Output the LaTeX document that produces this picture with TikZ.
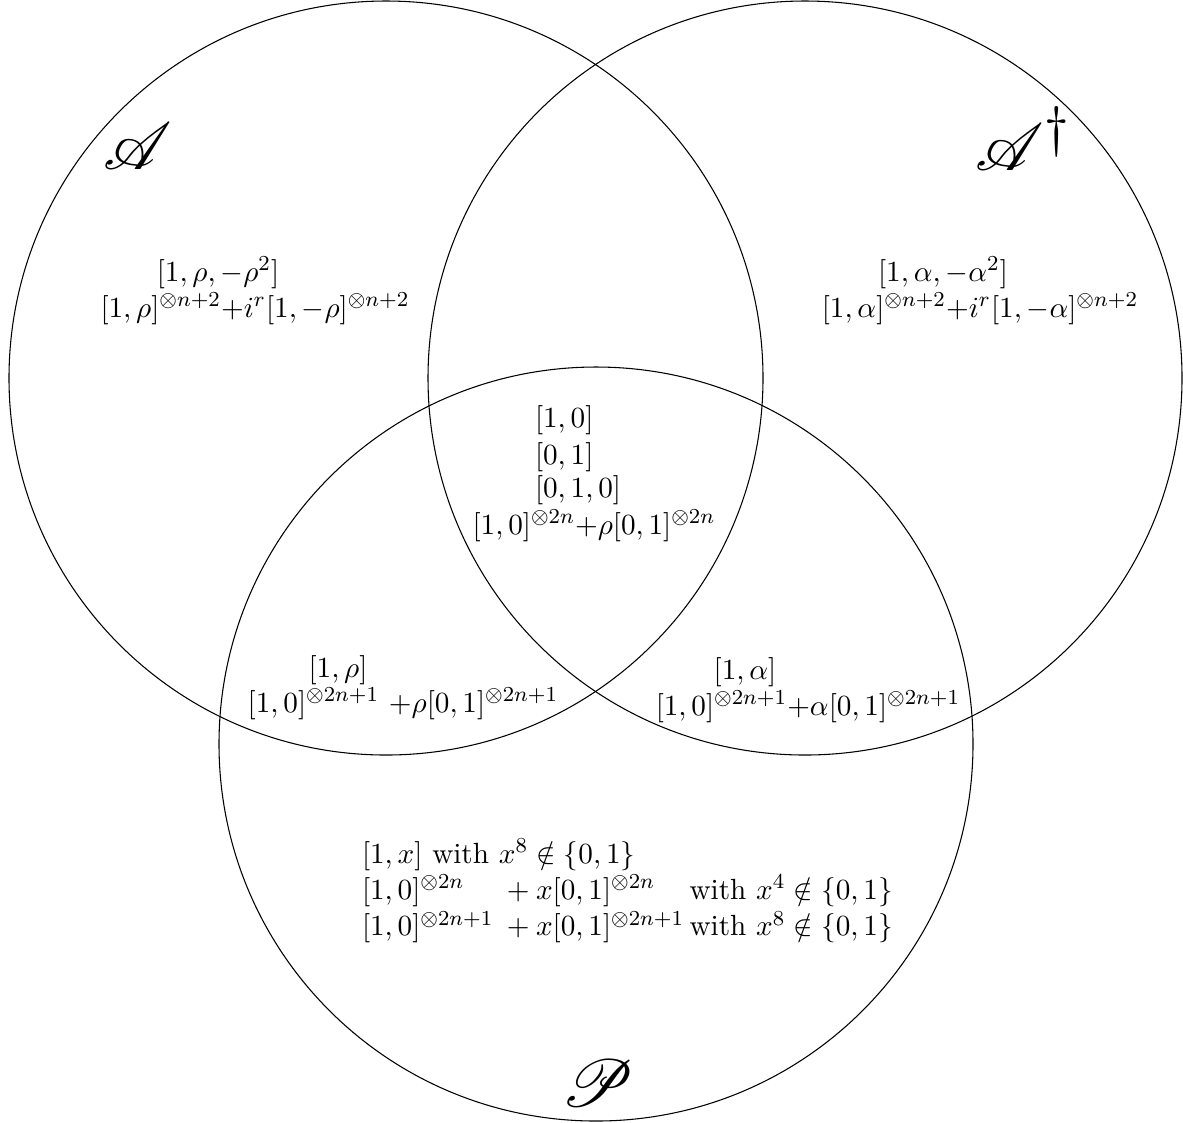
\documentclass[tikz,border=0pt]{standalone}
\usepackage{amsmath,amssymb}
\usepackage{mathrsfs}
\begin{document}
\begin{tikzpicture}[x=0.3748pt,y=-0.3748pt,
  every node/.style={font=\fontsize{10.95}{13.6}\selectfont},
  circ/.style={draw=black,line width=0.4pt},
  lbl/.style={inner sep=0pt,outer sep=0pt},
  setname/.style={inner sep=0pt,font=\Huge}]
\useasboundingbox (0,0) rectangle (1183,1122);
% circles
\draw[circ] (386,378) circle [radius=377];
\draw[circ] (805,378) circle [radius=377];
\draw[circ] (596,744) circle [radius=377];
% set names
\node[setname] (nA) at (138,146) {$\mathscr{A}$};
\node[setname,anchor=base west] (nAd) at (975,170) {$\mathscr{A}^{\dagger}$};
\node[setname] (nP) at (598,1083) {$\mathscr{P}$};
% A only
\node[lbl,anchor=base] (a1) at (218,281) {$[1,\rho,-\rho^2]$};
\node[lbl,anchor=base] (a2) at (255,317) {$[1,\rho]^{\otimes n+2}{+}i^r[1,-\rho]^{\otimes n+2}$};
% A dagger only
\node[lbl,anchor=base] (b1) at (943,281) {$[1,\alpha,-\alpha^2]$};
\node[lbl,anchor=base] (b2) at (980,317) {$[1,\alpha]^{\otimes n+2}{+}i^r[1,-\alpha]^{\otimes n+2}$};
% center
\node[lbl,anchor=base west] (c1) at (535,427) {$[1,0]$};
\node[lbl,anchor=base west] (c2) at (535,464) {$[0,1]$};
\node[lbl,anchor=base west] (c3) at (535,497) {$[0,1,0]$};
\node[lbl,anchor=base] (c4) at (594,534) {$[1,0]^{\otimes 2n}{+}\rho[0,1]^{\otimes 2n}$};
% A and P
\node[lbl,anchor=base] (d1) at (338,677) {$[1,\rho]$};
\node[lbl,anchor=base] (d2) at (403,712) {$[1,0]^{\otimes 2n+1}$\ $+\rho[0,1]^{\otimes 2n+1}$};
% A dagger and P
\node[lbl,anchor=base] (e1) at (745,679) {$[1,\alpha]$};
\node[lbl,anchor=base] (e2) at (808,715) {$[1,0]^{\otimes 2n+1}{+}\alpha[0,1]^{\otimes 2n+1}$};
% P only
\node[lbl,anchor=base west] (p) at (362,863) {%
\begin{tabular}[t]{@{}l@{\hspace{5pt}}l@{\hspace{2pt}}l@{}}
\multicolumn{3}{@{}l@{}}{$[1,x]$ with $x^8\notin\{0,1\}$}\\
$[1,0]^{\otimes 2n}$ & ${+}\:x[0,1]^{\otimes 2n}$ & with $x^4\notin\{0,1\}$\\
$[1,0]^{\otimes 2n+1}$ & ${+}\:x[0,1]^{\otimes 2n+1}$ & with $x^8\notin\{0,1\}$
\end{tabular}};
\end{tikzpicture}
\end{document}
